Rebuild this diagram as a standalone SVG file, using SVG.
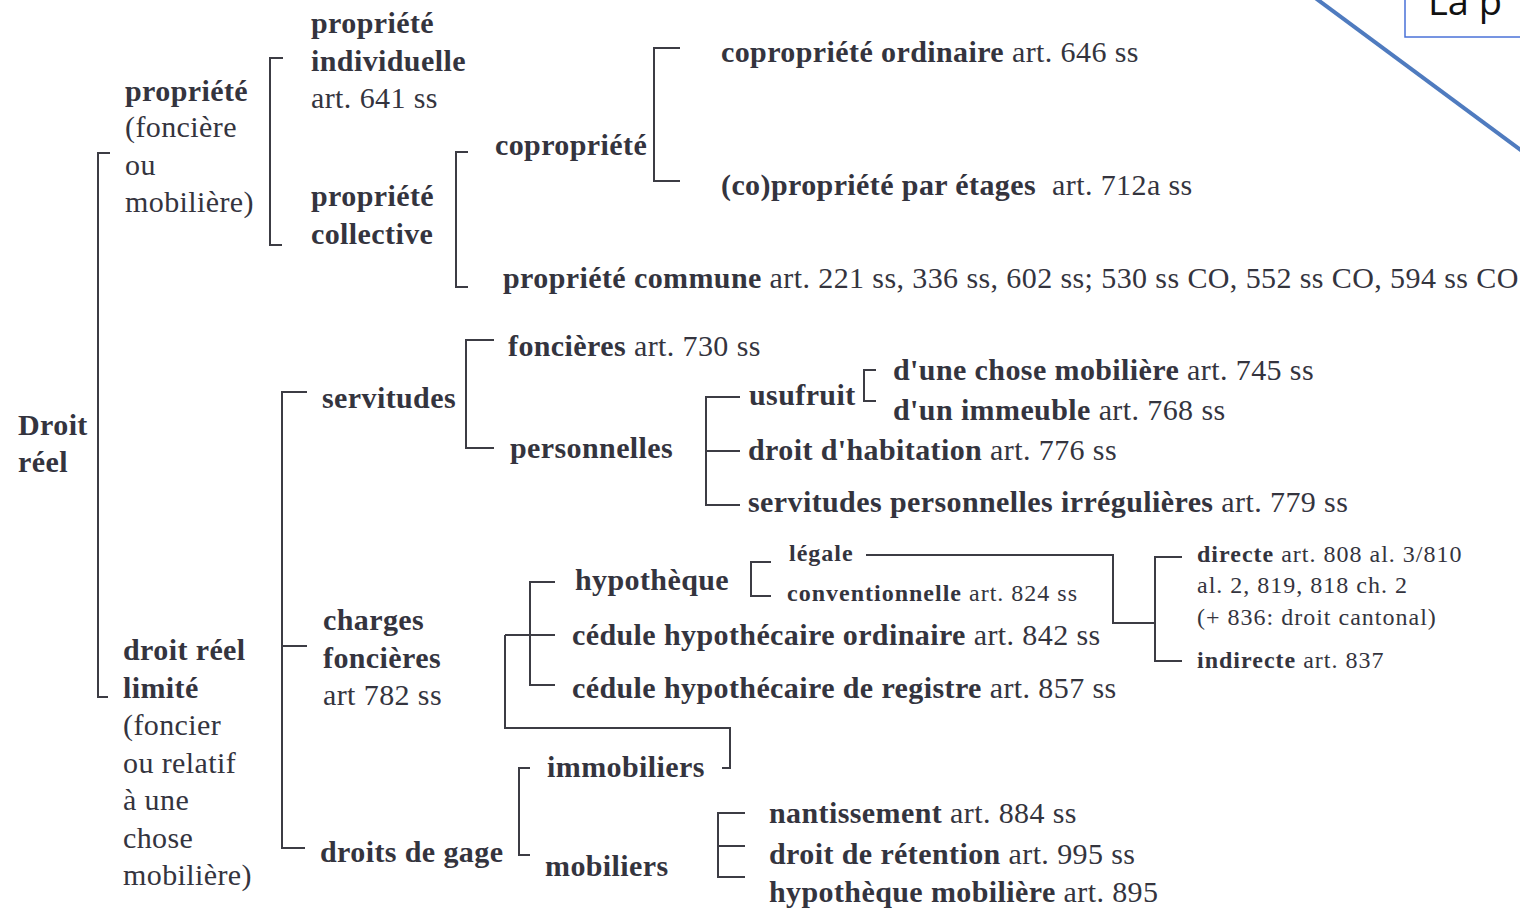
<svg xmlns="http://www.w3.org/2000/svg" width="1520" height="909" viewBox="0 0 1520 909">
<style>
text{font-family:"Liberation Serif","Times New Roman",serif;fill:#34343e;font-size:30px;letter-spacing:0.4px}
.b{font-weight:bold}
.s{font-size:24px;letter-spacing:1px}
#connectors path{fill:none;stroke:#3c3c44;stroke-width:2}
</style>
<rect width="1520" height="909" fill="#ffffff"/>
<g id="callout">
<rect x="1405" y="-6" width="130" height="43" fill="#ffffff" stroke="#4a72d8" stroke-width="1.5"/>
<text x="1428" y="15" style="font-family:'Open Sans','Liberation Sans',sans-serif;font-size:38px;letter-spacing:0;fill:#111">La p</text>
<line x1="1314" y1="-3" x2="1526" y2="154" stroke="#4f7bbf" stroke-width="4"/>
</g>
<g id="connectors">
<path d="M110 153H98V697H108"/>
<path d="M283 58H270V245H282"/>
<path d="M468 152H456V287H468"/>
<path d="M680 48H654V181H680"/>
<path d="M307 392H282V848H305M282 646H307"/>
<path d="M494 340H466V448H494"/>
<path d="M876 370H864V401H876"/>
<path d="M740 397H706V505H740M706 451H740"/>
<path d="M771 562H751V596H771"/>
<path d="M555 582H530V685H555M505 635H555"/>
<path d="M505 635V728H730V768H722"/>
<path d="M866 555H1113V623H1155"/>
<path d="M1182 557H1155V661H1182"/>
<path d="M530 768H519V855H530"/>
<path d="M745 813H718V877H745M718 846H745"/>
</g>
<g id="droit-reel"><text class="b" x="18" y="435">Droit</text><text class="b" x="18" y="472">réel</text></g>
<g id="propriete"><text class="b" x="125" y="101">propriété</text><text x="125" y="137">(foncière</text><text x="125" y="175">ou</text><text x="125" y="212">mobilière)</text></g>
<g id="droit-reel-limite"><text class="b" x="123" y="660">droit réel</text><text class="b" x="123" y="698">limité</text><text x="123" y="735">(foncier</text><text x="123" y="773">ou relatif</text><text x="123" y="810">à une</text><text x="123" y="848">chose</text><text x="123" y="885">mobilière)</text></g>
<g id="propriete-individuelle"><text class="b" x="311" y="33">propriété</text><text class="b" x="311" y="71">individuelle</text><text x="311" y="108">art. 641 ss</text></g>
<g id="propriete-collective"><text class="b" x="311" y="206">propriété</text><text class="b" x="311" y="244">collective</text></g>
<g id="copropriete"><text class="b" x="495" y="155">copropriété</text></g>
<g id="copropriete-ordinaire"><text x="721" y="62"><tspan class="b">copropriété ordinaire</tspan> art. 646 ss</text></g>
<g id="copropriete-etages"><text x="721" y="195"><tspan class="b">(co)propriété par étages</tspan><tspan dx="16">art. 712a ss</tspan></text></g>
<g id="propriete-commune"><text x="503" y="288"><tspan class="b">propriété commune</tspan> art. 221 ss, 336 ss, 602 ss; 530 ss CO, 552 ss CO, 594 ss CO</text></g>
<g id="servitudes"><text class="b" x="322" y="408">servitudes</text></g>
<g id="charges-foncieres"><text class="b" x="323" y="630">charges</text><text class="b" x="323" y="668">foncières</text><text x="323" y="705">art 782 ss</text></g>
<g id="droits-de-gage"><text class="b" x="320" y="862">droits de gage</text></g>
<g id="foncieres"><text x="508" y="356"><tspan class="b">foncières</tspan> art. 730 ss</text></g>
<g id="personnelles"><text class="b" x="510" y="458">personnelles</text></g>
<g id="usufruit"><text class="b" x="749" y="405">usufruit</text></g>
<g id="chose-mobiliere"><text x="893" y="380"><tspan class="b">d'une chose mobilière</tspan> art. 745 ss</text></g>
<g id="immeuble"><text x="893" y="420"><tspan class="b">d'un immeuble</tspan> art. 768 ss</text></g>
<g id="habitation"><text x="748" y="460"><tspan class="b">droit d'habitation</tspan> art. 776 ss</text></g>
<g id="irregulieres"><text x="748" y="512"><tspan class="b">servitudes personnelles irrégulières</tspan> art. 779 ss</text></g>
<g id="hypotheque"><text class="b" x="575" y="590">hypothèque</text></g>
<g id="legale"><text class="b s" x="789" y="561">légale</text></g>
<g id="conventionnelle"><text class="s" x="787" y="601"><tspan class="b">conventionnelle</tspan> art. 824 ss</text></g>
<g id="cedule-ordinaire"><text x="572" y="645"><tspan class="b">cédule hypothécaire ordinaire</tspan> art. 842 ss</text></g>
<g id="cedule-registre"><text x="572" y="698"><tspan class="b">cédule hypothécaire de registre</tspan> art. 857 ss</text></g>
<g id="directe"><text class="s" x="1197" y="562"><tspan class="b">directe</tspan> art. 808 al. 3/810</text><text class="s" x="1197" y="593">al. 2, 819, 818 ch. 2</text><text class="s" x="1197" y="625">(+ 836: droit cantonal)</text></g>
<g id="indirecte"><text class="s" x="1197" y="668"><tspan class="b">indirecte</tspan> art. 837</text></g>
<g id="immobiliers"><text class="b" x="547" y="777">immobiliers</text></g>
<g id="mobiliers"><text class="b" x="545" y="876">mobiliers</text></g>
<g id="nantissement"><text x="769" y="823"><tspan class="b">nantissement</tspan> art. 884 ss</text></g>
<g id="retention"><text x="769" y="864"><tspan class="b">droit de rétention</tspan> art. 995 ss</text></g>
<g id="hypotheque-mobiliere"><text x="769" y="902"><tspan class="b">hypothèque mobilière</tspan> art. 895</text></g>
</svg>
